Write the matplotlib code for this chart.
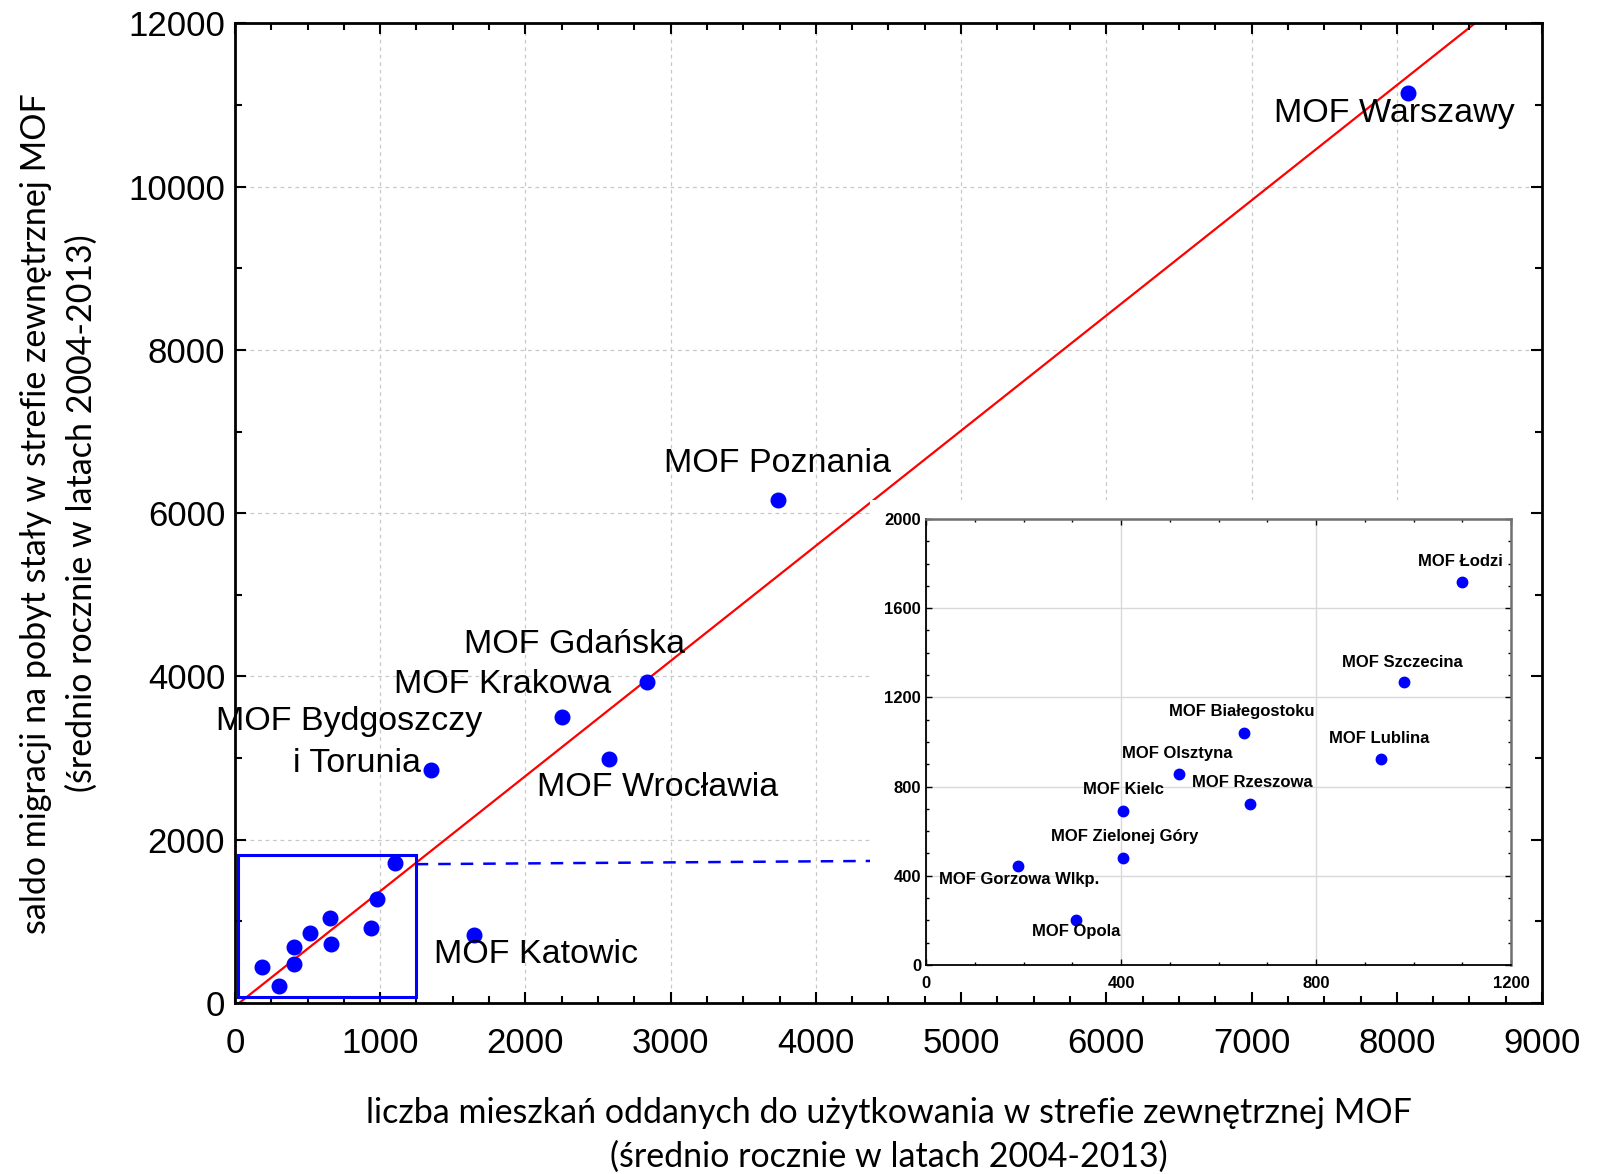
import matplotlib
matplotlib.use("Agg")
import matplotlib.pyplot as plt
from matplotlib.patches import Rectangle
from matplotlib.ticker import MultipleLocator
from matplotlib import font_manager

names = {f.name for f in font_manager.fontManager.ttflist}
narrow = "Liberation Sans Narrow" if "Liberation Sans Narrow" in names else "Liberation Sans"

plt.rcParams["font.family"] = ["Liberation Sans", "DejaVu Sans"]

# big MOFs (main chart)
big_names = ["Warszawy", "Poznania", "Gdańska", "Krakowa", "Wrocławia",
             "Bydgoszczy i Torunia", "Katowic"]
big_x = [8075, 3738, 2837, 2252, 2573, 1347, 1646]
big_y = [11150, 6156, 3934, 3498, 2988, 2857, 833]

# small MOFs (inset + box in main chart)
small_names = ["Łodzi", "Szczecina", "Białegostoku", "Lublina", "Olsztyna",
               "Rzeszowa", "Kielc", "Zielonej Góry", "Gorzowa Wlkp.", "Opola"]
small_x = [1100, 980, 652, 934, 518, 665, 405, 405, 188, 307]
small_y = [1719, 1268, 1038, 924, 857, 724, 690, 479, 446, 202]

# trend line ends
trend_x = [30, 9000]
trend_y = [0, 12000 * (9000 - 30) / (8536 - 30)]

fig = plt.figure(figsize=(15.98, 11.74), dpi=100)
ax = fig.add_axes([0.147, 0.1457, 0.818, 0.8343])

ax.set_xlim(0, 9000)
ax.set_ylim(0, 12000)
ax.xaxis.set_major_locator(MultipleLocator(1000))
ax.xaxis.set_minor_locator(MultipleLocator(250))
ax.yaxis.set_major_locator(MultipleLocator(2000))
ax.yaxis.set_minor_locator(MultipleLocator(1000))
ax.tick_params(which="both", direction="in", top=True, right=True, labelsize=25, width=1.5)
ax.tick_params(which="major", length=8)
ax.tick_params(which="minor", length=5)
ax.tick_params(axis="x", pad=17)
ax.tick_params(axis="y", pad=7)
for s in ax.spines.values():
    s.set_linewidth(2)

# dashed grid drawn by hand so the white inset area can sit above it
for v in range(1000, 9000, 1000):
    ax.axvline(v, color="#c8c8c8", linestyle=(0, (3, 3)), linewidth=0.9, zorder=0.5)
for v in range(2000, 12000, 2000):
    ax.axhline(v, color="#c8c8c8", linestyle=(0, (3, 3)), linewidth=0.9, zorder=0.5)

ax.plot(trend_x, trend_y, color="red", lw=1.6, zorder=1)
ax.plot(big_x, big_y, "o", color="blue", ms=10.5, zorder=3)
ax.plot(small_x, small_y, "o", color="blue", ms=10.5, zorder=3)

ax.add_patch(Rectangle((20, 75), 1225, 1740, fill=False, edgecolor="blue", lw=2.2, zorder=3))
ax.plot([1245, 4400], [1700, 1740], color="blue", lw=1.8, linestyle=(0, (5, 4)), zorder=1)

# white area behind the inset
ax.add_patch(Rectangle((0.4855, 0.0), 0.5145, 0.5135, transform=ax.transAxes,
                       facecolor="white", edgecolor="none", zorder=1.5))

lab_kw = dict(fontsize=24.5, zorder=5)
ax.text(7152, 10903, "MOF Warszawy", ha="left", va="center", **lab_kw)
ax.text(2951, 6604, "MOF Poznania", ha="left", va="center", **lab_kw)
ax.text(1574, 4386, "MOF Gdańska", ha="left", va="center", **lab_kw)
ax.text(1096, 3900, "MOF Krakowa", ha="left", va="center", **lab_kw)
ax.text(787, 3452, "MOF Bydgoszczy", ha="center", va="center", **lab_kw)
ax.text(843, 2928, "i Torunia", ha="center", va="center", **lab_kw)
ax.text(2080, 2642, "MOF Wrocławia", ha="left", va="center", **lab_kw)
ax.text(1370, 598, "MOF Katowic", ha="left", va="center", **lab_kw)

ax.set_xlabel("liczba mieszkań oddanych do użytkowania w strefie zewnętrznej MOF\n"
              "(średnio rocznie w latach 2004-2013)", fontsize=24.5, family="Lato",
              linespacing=1.45, labelpad=27)
ax.set_ylabel("saldo migracji na pobyt stały w strefie zewnętrznej MOF\n"
              "(średnio rocznie w latach 2004-2013)", fontsize=24.5, family="Lato",
              linespacing=1.5, labelpad=22)

# inset
ins = fig.add_axes([0.5795, 0.178, 0.3661, 0.380])
ins.set_zorder(6)
ins.set_xlim(0, 1200)
ins.set_ylim(0, 2000)
ins.xaxis.set_major_locator(MultipleLocator(400))
ins.xaxis.set_minor_locator(MultipleLocator(100))
ins.yaxis.set_major_locator(MultipleLocator(400))
ins.yaxis.set_minor_locator(MultipleLocator(100))
ins.tick_params(which="both", direction="in", top=True, right=True, labelsize=12, width=1)
ins.tick_params(which="major", length=4)
ins.tick_params(which="minor", length=2.5)
ins.tick_params(axis="x", pad=8)
for lbl in ins.get_xticklabels() + ins.get_yticklabels():
    lbl.set_fontweight("bold")
    lbl.set_family(narrow)
for side in ["top", "right"]:
    ins.spines[side].set_color("#707070")
    ins.spines[side].set_linewidth(1.8)
for side in ["left", "bottom"]:
    ins.spines[side].set_linewidth(1.3)
ins.set_axisbelow(True)
ins.grid(True, which="major", color="#d9d9d9", linewidth=1)
ins.plot(small_x, small_y, "o", color="blue", ms=7.5)

small_lab_x = [1096, 977, 648, 929, 515, 670, 405, 407, 190, 307]
small_lab_y = [1810, 1358, 1137, 1014, 950, 820, 785, 576, 384, 150]
for name, lx, ly in zip(small_names, small_lab_x, small_lab_y):
    ins.text(lx, ly, "MOF " + name, ha="center", va="center", fontsize=12,
             fontweight="bold", family=narrow)

fig.savefig("out.png", dpi=100)
